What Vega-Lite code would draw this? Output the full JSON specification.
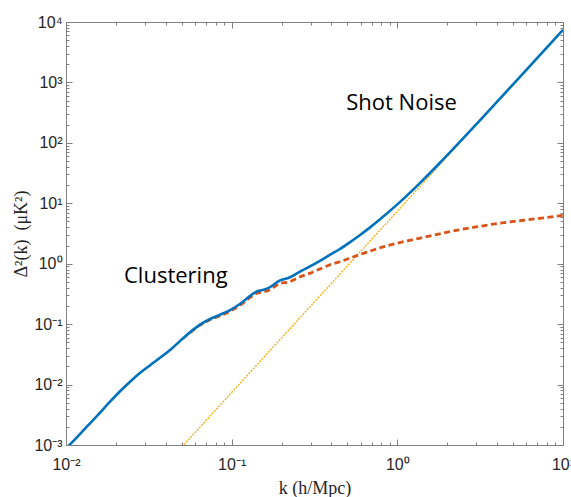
{
  "$schema": "https://vega.github.io/schema/vega-lite/v6.json",
  "width": 497,
  "height": 423,
  "autosize": "none",
  "padding": {"left": 66, "top": 22, "right": 8, "bottom": 52},
  "background": "white",
  "config": {
    "view": {"stroke": null},
    "axis": {
      "grid": false,
      "domainColor": "#808080",
      "tickColor": "#808080",
      "domainWidth": 1,
      "tickWidth": 1,
      "labelFont": "Liberation Sans",
      "labelFontSize": 16,
      "labelColor": "#262626",
      "labelOverlap": false,
      "labelFlush": false,
      "titleFont": "Liberation Serif",
      "titleFontSize": 18,
      "titleFontWeight": "normal",
      "titleColor": "#262626"
    }
  },
  "datasets": {
    "blue": [
      {"k": 0.01023, "d": 0.000933}, {"k": 0.01175, "d": 0.00138}, {"k": 0.01349, "d": 0.002065},
      {"k": 0.01585, "d": 0.003311}, {"k": 0.0182, "d": 0.005012}, {"k": 0.02113, "d": 0.007674},
      {"k": 0.02455, "d": 0.01135}, {"k": 0.02793, "d": 0.01549}, {"k": 0.03236, "d": 0.02113},
      {"k": 0.03681, "d": 0.02754}, {"k": 0.04266, "d": 0.03776}, {"k": 0.04864, "d": 0.05218},
      {"k": 0.05623, "d": 0.07379}, {"k": 0.06412, "d": 0.0975}, {"k": 0.07362, "d": 0.1205},
      {"k": 0.08511, "d": 0.1429}, {"k": 0.09727, "d": 0.1694}, {"k": 0.1122, "d": 0.2153},
      {"k": 0.1282, "d": 0.2877}, {"k": 0.1413, "d": 0.3455}, {"k": 0.1538, "d": 0.3673},
      {"k": 0.1694, "d": 0.4055}, {"k": 0.1945, "d": 0.5248}, {"k": 0.2234, "d": 0.5902},
      {"k": 0.257, "d": 0.7345}, {"k": 0.2951, "d": 0.8933}, {"k": 0.3388, "d": 1.102},
      {"k": 0.389, "d": 1.388}, {"k": 0.4477, "d": 1.734}, {"k": 0.514, "d": 2.233},
      {"k": 0.5902, "d": 2.931}, {"k": 0.6792, "d": 3.917}, {"k": 0.7798, "d": 5.328},
      {"k": 1.0, "d": 9.583}, {"k": 1.358, "d": 21.17}, {"k": 1.778, "d": 44.67},
      {"k": 2.36, "d": 100.9}, {"k": 3.162, "d": 238.1}, {"k": 4.111, "d": 518.7},
      {"k": 5.623, "d": 1320}, {"k": 7.161, "d": 2722}, {"k": 10, "d": 7404}
    ],
    "red": [
      {"k": 0.05623, "d": 0.07244}, {"k": 0.06412, "d": 0.0955}, {"k": 0.07362, "d": 0.1175},
      {"k": 0.08511, "d": 0.138}, {"k": 0.09727, "d": 0.1622}, {"k": 0.1122, "d": 0.2042},
      {"k": 0.1282, "d": 0.271}, {"k": 0.1413, "d": 0.3236}, {"k": 0.1538, "d": 0.3388},
      {"k": 0.1694, "d": 0.3673}, {"k": 0.1945, "d": 0.4677}, {"k": 0.2234, "d": 0.5035},
      {"k": 0.257, "d": 0.6026}, {"k": 0.2951, "d": 0.6934}, {"k": 0.3388, "d": 0.8128},
      {"k": 0.389, "d": 0.9528}, {"k": 0.4477, "d": 1.072}, {"k": 0.514, "d": 1.227},
      {"k": 0.5902, "d": 1.413}, {"k": 0.6792, "d": 1.603}, {"k": 0.7798, "d": 1.82},
      {"k": 1.0, "d": 2.188}, {"k": 1.358, "d": 2.63}, {"k": 1.778, "d": 3.09},
      {"k": 2.36, "d": 3.631}, {"k": 3.162, "d": 4.169}, {"k": 4.111, "d": 4.677},
      {"k": 5.623, "d": 5.188}, {"k": 7.161, "d": 5.623}, {"k": 10, "d": 6.31}
    ],
    "shot": [
      {"k": 0.05, "d": 0.000925}, {"k": 0.1, "d": 0.0074}, {"k": 0.3, "d": 0.1998},
      {"k": 1, "d": 7.4}, {"k": 3, "d": 199.8}, {"k": 10, "d": 7400}
    ],
    "notes": [
      {"k": 1.06, "d": 350, "t": "Shot Noise"},
      {"k": 0.046, "d": 0.48, "t": "Clustering"}
    ]
  },
  "layer": [
    {
      "data": {"name": "shot"},
      "mark": {"type": "line", "color": "#EDB120", "strokeWidth": 1.4, "strokeDash": [2, 1.2], "clip": true},
      "encoding": {
        "x": {
          "field": "k", "type": "quantitative",
          "scale": {"type": "log", "domain": [0.01, 10], "nice": false},
          "axis": {
            "orient": "top", "labels": false, "title": null,
            "values": [0.01,0.02,0.03,0.04,0.05,0.06,0.07,0.08,0.09,0.1,0.2,0.3,0.4,0.5,0.6,0.7,0.8,0.9,1,2,3,4,5,6,7,8,9,10],
            "tickSize": {"condition": {"test": "indexof([0.01,0.1,1,10], datum.value) >= 0", "value": -6}, "value": -3}
          }
        },
        "y": {
          "field": "d", "type": "quantitative",
          "scale": {"type": "log", "domain": [0.001, 10000], "nice": false},
          "axis": {
            "orient": "right", "labels": false, "title": null,
            "values": [0.001,0.002,0.003,0.004,0.005,0.006,0.007,0.008,0.009,0.01,0.02,0.03,0.04,0.05,0.06,0.07,0.08,0.09,0.1,0.2,0.3,0.4,0.5,0.6,0.7,0.8,0.9,1,2,3,4,5,6,7,8,9,10,20,30,40,50,60,70,80,90,100,200,300,400,500,600,700,800,900,1000,2000,3000,4000,5000,6000,7000,8000,9000,10000],
            "tickSize": {"condition": {"test": "indexof([0.001,0.01,0.1,1,10,100,1000,10000], datum.value) >= 0", "value": -6}, "value": -3}
          }
        }
      }
    },
    {
      "data": {"name": "red"},
      "mark": {"type": "line", "color": "#D95319", "strokeWidth": 2.8, "strokeDash": [6, 3.5], "interpolate": "monotone", "clip": true},
      "encoding": {
        "x": {"field": "k", "type": "quantitative", "axis": null},
        "y": {"field": "d", "type": "quantitative", "axis": null}
      }
    },
    {
      "data": {"name": "blue"},
      "mark": {"type": "line", "color": "#0072BD", "strokeWidth": 2.6, "interpolate": "monotone", "clip": true},
      "encoding": {
        "x": {
          "field": "k", "type": "quantitative",
          "axis": {
            "orient": "bottom",
            "title": "k (h/Mpc)",
            "titlePadding": 4,
            "labelPadding": 17,
            "values": [0.01,0.02,0.03,0.04,0.05,0.06,0.07,0.08,0.09,0.1,0.2,0.3,0.4,0.5,0.6,0.7,0.8,0.9,1,2,3,4,5,6,7,8,9,10],
            "labelExpr": "datum.value == 0.01 ? '10⁻²' : datum.value == 0.1 ? '10⁻¹' : datum.value == 1 ? '10⁰' : datum.value == 10 ? '10¹' : ''",
            "tickSize": {"condition": {"test": "indexof([0.01,0.1,1,10], datum.value) >= 0", "value": -6}, "value": -3}
          }
        },
        "y": {
          "field": "d", "type": "quantitative",
          "axis": {
            "orient": "left",
            "title": "Δ²(k)\u00a0\u00a0(μK²)",
            "titlePadding": 3,
            "labelPadding": 10,
            "values": [0.001,0.002,0.003,0.004,0.005,0.006,0.007,0.008,0.009,0.01,0.02,0.03,0.04,0.05,0.06,0.07,0.08,0.09,0.1,0.2,0.3,0.4,0.5,0.6,0.7,0.8,0.9,1,2,3,4,5,6,7,8,9,10,20,30,40,50,60,70,80,90,100,200,300,400,500,600,700,800,900,1000,2000,3000,4000,5000,6000,7000,8000,9000,10000],
            "labelExpr": "datum.value == 0.001 ? '10⁻³' : datum.value == 0.01 ? '10⁻²' : datum.value == 0.1 ? '10⁻¹' : datum.value == 1 ? '10⁰' : datum.value == 10 ? '10¹' : datum.value == 100 ? '10²' : datum.value == 1000 ? '10³' : datum.value == 10000 ? '10⁴' : ''",
            "tickSize": {"condition": {"test": "indexof([0.001,0.01,0.1,1,10,100,1000,10000], datum.value) >= 0", "value": -6}, "value": -3}
          }
        }
      }
    },
    {
      "data": {"name": "notes"},
      "mark": {"type": "text", "font": "Open Sans", "fontSize": 22, "color": "#000000", "align": "center", "baseline": "alphabetic"},
      "encoding": {
        "x": {"field": "k", "type": "quantitative", "axis": null},
        "y": {"field": "d", "type": "quantitative", "axis": null},
        "text": {"field": "t"}
      }
    }
  ],
  "resolve": {"axis": {"x": "independent", "y": "independent"}}
}
